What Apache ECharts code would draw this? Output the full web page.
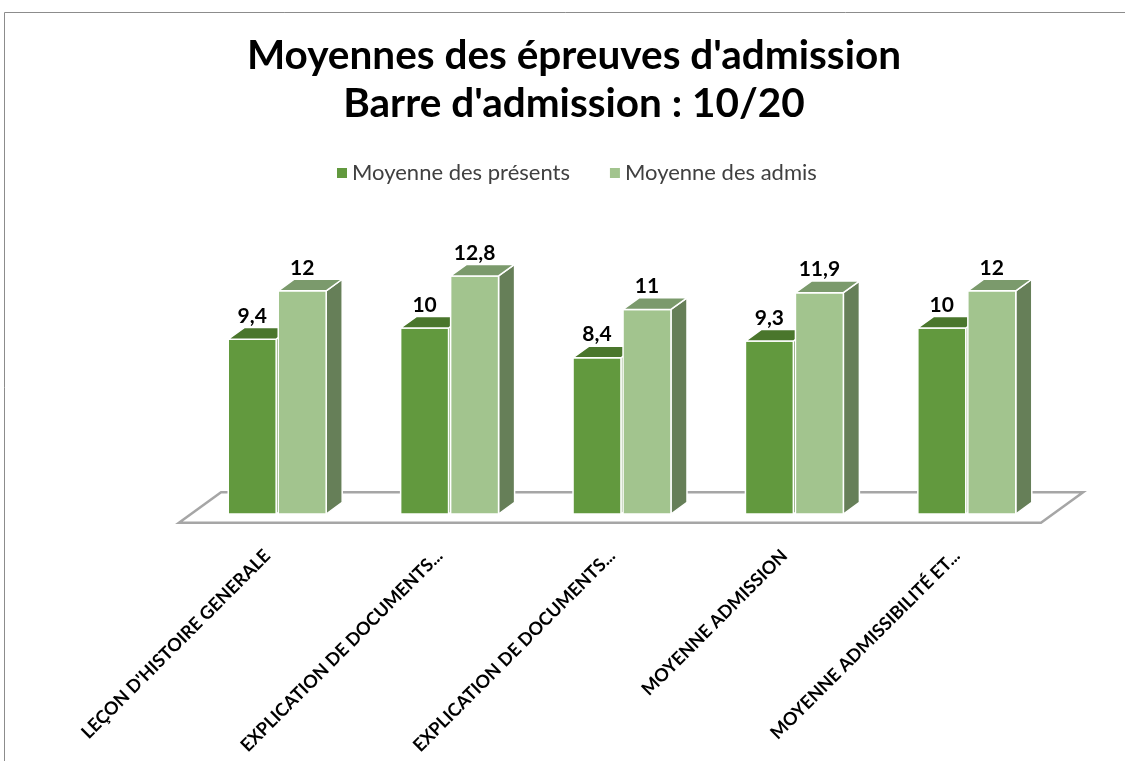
<!DOCTYPE html>
<html><head><meta charset="utf-8">
<script src="https://cdn.jsdelivr.net/npm/echarts@6/dist/echarts.min.js"></script>
<style>html,body{margin:0;padding:0;background:#fff}#c{width:1125px;height:761px}</style>
</head><body><div id="c"></div>
<script>
const categories = ["LEÇON D'HISTOIRE GENERALE", "EXPLICATION DE DOCUMENTS...", "EXPLICATION DE DOCUMENTS...", "MOYENNE ADMISSION", "MOYENNE ADMISSIBILITÉ ET..."];
const presents = [9.4, 10, 8.4, 9.3, 10];
const admis = [12, 12.8, 11, 11.9, 12];
const seriesNames = ["Moyenne des présents", "Moyenne des admis"];
const titleText = "Moyennes des épreuves d'admission\nBarre d'admission : 10/20";

const FONT = 'Lato, "Open Sans", sans-serif';
const palette = [
  { front: '#62993E', top: '#4A762C', side: '#4F7C32' },
  { front: '#A2C48E', top: '#7B9A6C', side: '#667F58' }
];
const fmt = v => String(v).replace('.', ',');

function barRender(side, colors) {
  return function (params, api) {
    const i = api.value(0), v = api.value(1);
    const top = api.coord([i, v]);
    const base = api.coord([i, 0]);
    const band = api.size([1, 0])[0];
    const w = band * 0.278, g = band * 0.006;
    const x0 = side < 0 ? top[0] - g - w : top[0] + g;
    const x1 = x0 + w;
    const dx = band * 0.093, dy = -dx * 0.72;
    const yt = top[1], yb = base[1];
    const st = { stroke: '#ffffff', lineWidth: 1.5, lineJoin: 'round' };
    return {
      type: 'group',
      children: [
        { type: 'polygon', shape: { points: [[x1, yt], [x1 + dx, yt + dy], [x1 + dx, yb + dy], [x1, yb]] },
          style: Object.assign({ fill: colors.side }, st) },
        { type: 'rect', shape: { x: x0, y: yt, width: w, height: yb - yt },
          style: Object.assign({ fill: colors.front }, st) },
        { type: 'polygon', shape: { points: [[x0, yt], [x1, yt], [x1 + dx, yt + dy], [x0 + dx, yt + dy]] },
          style: Object.assign({ fill: colors.top }, st) },
        { type: 'text', z2: 10, style: { text: fmt(v), x: (x0 + x1) / 2, y: yt + dy - 1, align: 'center', verticalAlign: 'bottom',
          fontFamily: FONT, fontWeight: 'bold', fontSize: 21, fill: '#000000' } }
      ]
    };
  };
}

function floorRender(params, api) {
  const cs = params.coordSys;
  const band = api.size([1, 0])[0];
  const d = band * 0.093, k = 0.72;
  const yb = cs.y + cs.height;
  const fx = -0.75 * d, bx = 1.875 * d;
  const pts = [
    [cs.x + fx, yb - fx * k], [cs.x + cs.width + fx, yb - fx * k],
    [cs.x + cs.width + bx, yb - bx * k], [cs.x + bx, yb - bx * k]
  ];
  return { type: 'polygon', shape: { points: pts }, style: { fill: '#ffffff', stroke: '#A6A6A6', lineWidth: 2.5, lineJoin: 'miter' } };
}

const chart = echarts.init(document.getElementById('c'), null, { renderer: 'canvas' });
chart.setOption({
  backgroundColor: '#ffffff',
  animation: false,
  graphic: [{ type: 'rect', shape: { x: 4.5, y: 12.5, width: 1300, height: 900 }, style: { fill: 'none', stroke: '#8C8C8C', lineWidth: 1 }, z: -10 }],
  title: {
    text: titleText, left: 569, top: 27, textAlign: 'center',
    textStyle: { fontFamily: FONT, fontWeight: 'bold', fontSize: 40.5, lineHeight: 48, color: '#000000' }
  },
  legend: {
    data: seriesNames, left: 332, top: 157, icon: 'rect', itemWidth: 10, itemHeight: 10, itemGap: 40,
    textStyle: { fontFamily: FONT, fontSize: 22, lineHeight: 22, color: '#404040' }
  },
  grid: { left: 191, right: 72, bottom: 247, top: 253.6, containLabel: false },
  xAxis: {
    type: 'category', data: categories, boundaryGap: true,
    axisLine: { show: false }, axisTick: { show: false }, splitLine: { show: false },
    axisLabel: { interval: 0, rotate: 45, margin: 29, padding: [0, 14, 0, 0], hideOverlap: false,
      fontFamily: FONT, fontWeight: 'bold', fontSize: 18, color: '#000000' }
  },
  yAxis: { type: 'value', min: 0, max: 14, show: false, splitLine: { show: false } },
  series: [
    { type: 'custom', name: 'floor', silent: true, renderItem: floorRender, data: [[0, 0]], z: 1 },
    { type: 'custom', name: seriesNames[0], renderItem: barRender(-1, palette[0]), itemStyle: { color: palette[0].front },
      encode: { x: 0, y: 1 }, data: presents.map((v, i) => [i, v]), z: 2 },
    { type: 'custom', name: seriesNames[1], renderItem: barRender(1, palette[1]), itemStyle: { color: palette[1].front },
      encode: { x: 0, y: 1 }, data: admis.map((v, i) => [i, v]), z: 3 }
  ]
});
</script>
</body></html>
